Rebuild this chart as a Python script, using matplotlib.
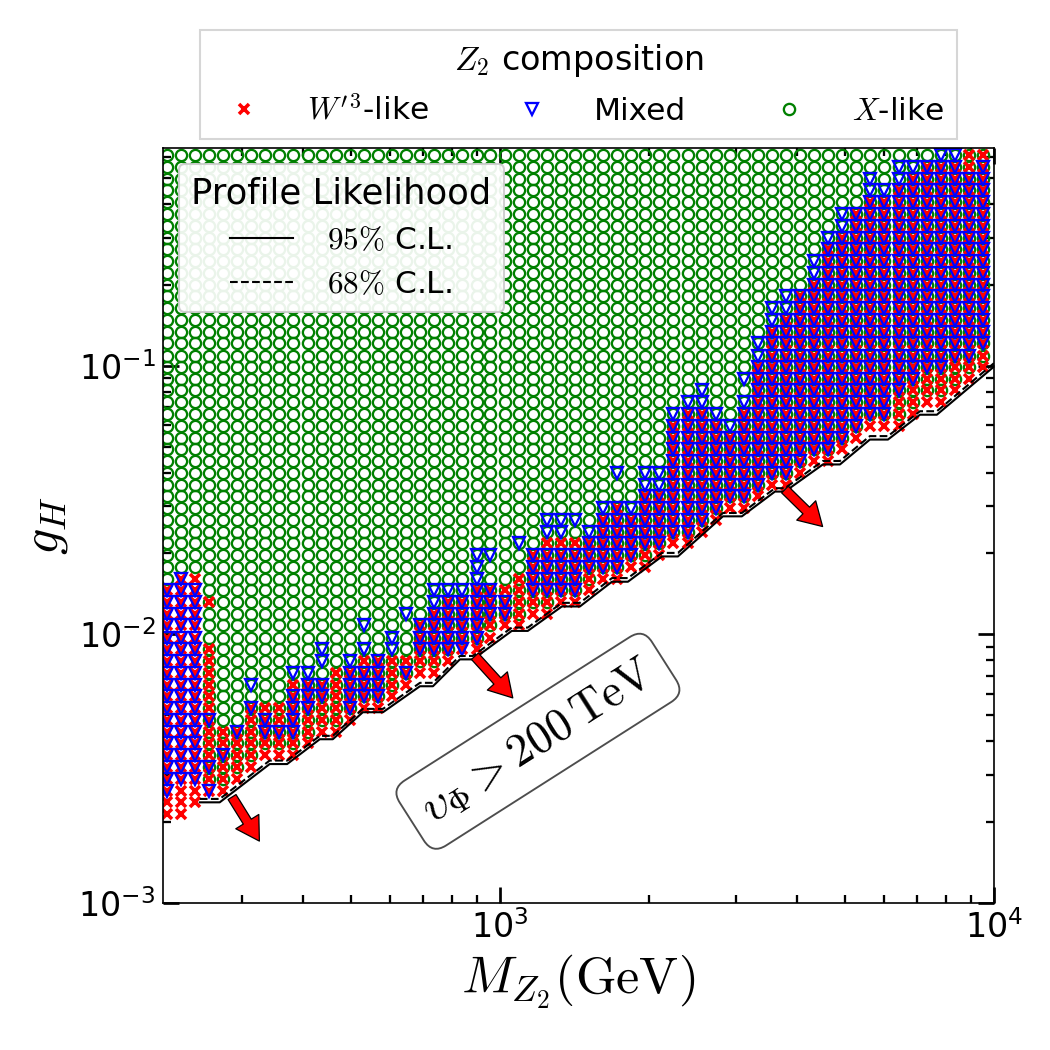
import matplotlib
matplotlib.use('Agg')
import matplotlib.pyplot as plt

plt.rcParams['font.family'] = 'DejaVu Sans'
plt.rcParams['mathtext.fontset'] = 'cm'
plt.rcParams['axes.unicode_minus'] = False

# Grade do scan (M_Z2 em GeV, g_H)
M_grid = [212, 226, 242, 258, 275, 294, 314, 335, 358, 382, 408, 436, 465, 497, 531,
          567, 605, 646, 690, 736, 786, 840, 897, 957, 1022, 1091, 1166, 1245, 1329,
          1419, 1515, 1618, 1728, 1845, 1970, 2103, 2246, 2398, 2560, 2734, 2919, 3117,
          3328, 3553, 3794, 4051, 4326, 4619, 4932, 5266, 5623, 6004, 6412, 6846, 7310,
          7806, 8335, 8900, 9502]
g_grid = [0.00214, 0.00237, 0.00262, 0.00290, 0.00321, 0.00355, 0.00393, 0.00434,
          0.00480, 0.00531, 0.00588, 0.00650, 0.00719, 0.00795, 0.00880, 0.00973,
          0.0108, 0.0119, 0.0132, 0.0146, 0.0161, 0.0178, 0.0197, 0.0218, 0.0241,
          0.0267, 0.0295, 0.0326, 0.0361, 0.0399, 0.0442, 0.0488, 0.0540, 0.0598,
          0.0661, 0.0731, 0.0809, 0.0895, 0.0990, 0.109, 0.121, 0.134, 0.148, 0.164,
          0.181, 0.200, 0.222, 0.245, 0.271, 0.300, 0.332, 0.367, 0.406, 0.449, 0.497,
          0.550, 0.608]

# Por coluna (índice em g_grid): faixas de cada composição
red_lo = [0, 0, 1, 2, 2, 3, 4, 5, 5, 5, 6, 7, 7, 8, 9, 9, 10, 11, 12, 12, 13, 14, 14, 15,
          16, 16, 17, 17, 18, 18, 19, 20, 20, 21, 21, 22, 23, 23, 24, 25, 26, 26, 27, 28,
          28, 29, 30, 30, 31, 32, 33, 33, 33, 34, 35, 35, 36, 37, 38]
red_hi = [19, 20, 20, 14, 7, 7, 9, 9, 9, 11, 11, 11, 12, 12, 13, 13, 13, 13, 16, 17, 18,
          18, 19, 19, 19, 20, 22, 23, 23, 23, 23, 25, 26, 25, 27, 27, 33, 34, 34, 33, 32,
          34, 38, 41, 42, 44, 45, 48, 49, 51, 52, 52, 53, 54, 55, 55, 55, 56, 56]
blue_lo = [2, 3, 3, 2, 5, 7, 9, 7, 7, 7, 9, 10, -1, 9, 10, 10, 14, 12, 14, 14, 14, 14, 15,
           17, 17, -1, 19, 19, 19, 19, 21, 21, 21, 22, 23, 23, 24, 24, 25, 26, 27, 27, 28,
           29, 29, 30, 31, 31, 32, 33, 34, 34, 36, 37, 38, 38, 39, 39, 40]
blue_hi = [19, 20, 19, 2, 5, 7, 9, 8, 7, 10, 12, 11, -1, 13, 12, 13, 15, 12, 16, 19, 19,
           19, 22, 19, 18, -1, 22, 22, 22, 22, 23, 26, 26, 26, 29, 29, 34, 35, 36, 34, 33,
           35, 40, 43, 44, 44, 47, 49, 51, 51, 54, 53, 55, 55, 55, 56, 56, 54, 55]
green_lo = [20, 21, 21, 3, 3, 4, 5, 6, 6, 6, 7, 8, 8, 9, 10, 10, 11, 12, 13, 13, 14, 15, 15,
            16, 17, 17, 18, 18, 19, 19, 20, 21, 21, 22, 22, 23, 24, 24, 25, 26, 27, 27, 28,
            29, 29, 30, 31, 31, 32, 33, 34, 34, 34, 35, 36, 36, 37, 38, 39]
# pontos isolados (coluna, linha)
extra_blue = [(3, 4), (3, 8), (6, 11), (9, 12), (11, 13), (11, 14), (14, 14), (14, 16),
              (17, 17), (23, 22), (25, 23), (27, 24), (27, 25), (28, 24), (28, 25),
              (29, 25), (30, 24), (32, 29), (41, 37)]
extra_red = [(3, 18)]

# Contornos do profile likelihood
cl_M = [247, 271, 342, 371, 432, 459, 528, 580, 689, 732, 830, 882, 1057, 1139, 1335,
        1452, 1686, 1816, 2128, 2293, 2828, 3089, 3604, 3775, 4506, 4879, 5610, 6102,
        7085, 7665, 10000]
cl95_g = [0.00237, 0.00237, 0.00329, 0.00329, 0.00407, 0.00407, 0.00513, 0.00513,
          0.00641, 0.00641, 0.00807, 0.00807, 0.0103, 0.0103, 0.0127, 0.0127, 0.0157,
          0.0157, 0.0195, 0.0195, 0.0275, 0.0275, 0.0340, 0.0340, 0.0429, 0.0429,
          0.0531, 0.0531, 0.0657, 0.0657, 0.0992]
cl68_g = [0.00244, 0.00244, 0.00339, 0.00339, 0.00419, 0.00419, 0.00528, 0.00528,
          0.00660, 0.00660, 0.00831, 0.00831, 0.0106, 0.0106, 0.0131, 0.0131, 0.0162,
          0.0162, 0.0201, 0.0201, 0.0283, 0.0283, 0.0350, 0.0350, 0.0442, 0.0442,
          0.0547, 0.0547, 0.0677, 0.0677, 0.1022]

# Setas vermelhas (cauda -> ponta)
arrow_tail_M = [287, 890, 3775]
arrow_tail_g = [0.00248, 0.00829, 0.0346]
arrow_head_M = [326, 1062, 4500]
arrow_head_g = [0.00170, 0.00580, 0.0252]


def collect(lo, hi, extra=()):
    xs, ys = [], []
    for c in range(len(M_grid)):
        if lo[c] < 0:
            continue
        top = hi[c] if hi is not None else len(g_grid) - 1
        for r in range(lo[c], top + 1):
            xs.append(M_grid[c])
            ys.append(g_grid[r])
    for c, r in extra:
        xs.append(M_grid[c])
        ys.append(g_grid[r])
    return xs, ys


fig = plt.figure(figsize=(7, 7), dpi=150)
ax = fig.add_axes([0.1552, 0.14, 0.7914, 0.719])

gx, gy = collect(green_lo, None)
rx, ry = collect(red_lo, red_hi, extra_red)
bx, by = collect(blue_lo, blue_hi, extra_blue)

h_green, = ax.plot(gx, gy, 'o', ls='none', mfc='none', mec='green', ms=5.4, mew=1.1)
h_red, = ax.plot(rx, ry, 'x', ls='none', color='red', ms=5.2, mew=1.7)
h_blue, = ax.plot(bx, by, 'v', ls='none', mfc='none', mec='blue', ms=6.0, mew=1.1)

l95, = ax.plot(cl_M, cl95_g, color='black', lw=1.0, ls='-')
l68, = ax.plot(cl_M, cl68_g, color='black', lw=1.0, ls='--')

for i in range(len(arrow_tail_M)):
    ax.annotate('', xy=(arrow_head_M[i], arrow_head_g[i]),
                xytext=(arrow_tail_M[i], arrow_tail_g[i]),
                arrowprops=dict(facecolor='red', edgecolor='black', lw=0.6,
                                width=4.5, headwidth=13, headlength=11, shrink=0))

ax.text(1194, 0.0040, r'$\upsilon_{\Phi} > 200\,\mathrm{TeV}$', fontsize=22,
        rotation=32.5, rotation_mode='anchor', ha='center', va='center',
        bbox=dict(boxstyle='round,pad=0.35', fc='white', ec='0.3', lw=0.9))

ax.set_xscale('log')
ax.set_yscale('log')
ax.set_xlim(208, 1e4)
ax.set_ylim(1e-3, 0.646)

ax.set_xlabel(r'$M_{Z_2}(\mathrm{GeV})$', fontsize=25)
ax.set_ylabel(r'$g_H$', fontsize=25)

ax.tick_params(which='both', direction='in', top=True, right=True, labelsize=16)
ax.tick_params(which='major', length=7.5, width=1.3)
ax.tick_params(which='minor', length=4, width=1.1)
for sp in ax.spines.values():
    sp.set_linewidth(0.8)

leg1 = ax.legend([l95, l68], [r'$95\%$ C.L.', r'$68\%$ C.L.'], loc='upper left',
                 title='Profile Likelihood', fontsize=15, title_fontsize=17,
                 handlelength=2.0, handletextpad=1.1, framealpha=0.92, edgecolor='0.8')
ax.add_artist(leg1)

ax.legend([h_red, h_blue, h_green], [r"$W'^{3}$-like", 'Mixed', r'$X$-like'],
          loc='lower center', bbox_to_anchor=(0.5, 1.0), borderaxespad=0.3, ncol=3,
          title=r'$Z_2$ composition', fontsize=15, title_fontsize=16,
          handlelength=2.0, handletextpad=1.0, columnspacing=2.3,
          fancybox=False, edgecolor='0.8')

fig.savefig('out.png', dpi=150)
